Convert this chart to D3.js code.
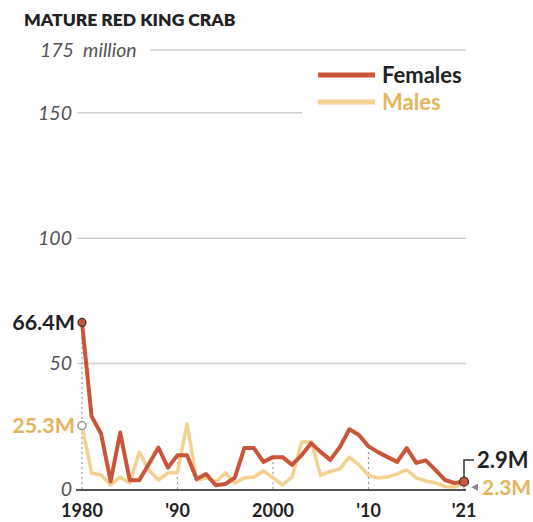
<!DOCTYPE html>
<html><head><meta charset="utf-8">
<script src="https://cdn.jsdelivr.net/npm/d3@7"></script>
<style>
body{margin:0;background:#fff;}
svg{display:block;font-family:Lato,"Open Sans",sans-serif;}
</style></head><body>
<svg id="c" width="533" height="522"></svg>
<script>
const years = [1980,1981,1982,1983,1984,1985,1986,1987,1988,1989,1990,1991,1992,1993,1994,1995,1996,1997,1998,1999,2000,2001,2002,2003,2004,2005,2006,2007,2008,2009,2010,2011,2012,2013,2014,2015,2016,2017,2018,2019,2021];
const females = [66.4,29,22,3,22.5,3.5,3.5,10,16.5,8.5,13.5,13.5,4,6,1.5,2,4.5,16.3,16.3,10.8,12.7,12.7,9.6,13.5,18.3,14.7,11.6,16.7,23.8,21.5,17,14.7,12.7,10.8,16.3,10.4,11.4,7.6,3.6,2.4,2.9];
const males = [25.3,6.4,5.6,1.6,4.8,2.4,14.7,7.6,3.6,6.4,6.6,26,3.6,4.4,2.8,6.4,2.4,4.4,4.8,7.2,4.5,1.6,4.8,18.7,18.7,5.5,7,8,12.7,9.6,5.5,4.4,4.8,6,7.6,4.4,3.2,2.4,1,0.8,2.3];
const yTicks = [0,50,100,150,175];
const xTicks = [1980,1990,2000,2010,2021];
const xTickLabels = ["1980","'90","2000","'10","'21"];
const title = "MATURE RED KING CRAB";

const FEM = "#c9553a", MAL = "#f4d190", MALTXT = "#e6b45c";
const svg = d3.select("#c");
const x = d3.scalePoint().domain(years).range([82,464]);
const y = d3.scaleLinear().domain([0,175]).range([489,50]);

svg.append("text").attr("x",24).attr("y",26).attr("font-size",17.5).attr("font-weight",800)
  .attr("fill","#222").text(title);

// gridlines
const gridExt = {175:[150,466],150:[77,302],100:[77,466],50:[77,466]};
yTicks.filter(d=>d>0).forEach(t=>{
  svg.append("line").attr("x1",gridExt[t][0]).attr("x2",gridExt[t][1])
    .attr("y1",y(t)).attr("y2",y(t)).attr("stroke","#cfcfcf").attr("stroke-width",1.5);
});
// y labels
yTicks.forEach(t=>{
  svg.append("text").attr("x",t===175?40:72).attr("y",y(t)).attr("dy","0.35em")
    .attr("text-anchor",t===175?"start":"end").attr("font-style","italic")
    .attr("font-size",19.5).attr("fill","#555").attr("xml:space","preserve")
    .text(t===175? "175  million" : t);
});

// dotted tick lines
xTicks.forEach(t=>{
  const i = years.indexOf(t);
  const top = Math.max(females[i],males[i]);
  svg.append("line").attr("x1",x(t)).attr("x2",x(t)).attr("y1",y(0)).attr("y2",y(top))
    .attr("stroke","#999").attr("stroke-width",1.2).attr("stroke-dasharray","2,3");
});
// baseline
svg.append("line").attr("x1",76).attr("x2",466).attr("y1",y(0)+1).attr("y2",y(0)+1)
  .attr("stroke","#555").attr("stroke-width",2.2);

// x labels
xTicks.forEach((t,k)=>{
  svg.append("text").attr("x",x(t)).attr("y",517).attr("text-anchor","middle")
    .attr("font-size",18).attr("font-weight",700).attr("fill","#222").text(xTickLabels[k]);
});

const line = d3.line().x((d,i)=>x(years[i])).y(d=>y(d)).curve(d3.curveLinear);
svg.append("path").datum(males).attr("d",line).attr("fill","none").attr("stroke",MAL)
  .attr("stroke-width",3.5).attr("stroke-linejoin","round");
svg.append("path").datum(females).attr("d",line).attr("fill","none").attr("stroke",FEM)
  .attr("stroke-width",4).attr("stroke-linejoin","round");

// legend
svg.append("line").attr("x1",318).attr("x2",375).attr("y1",75).attr("y2",75).attr("stroke",FEM).attr("stroke-width",5);
svg.append("line").attr("x1",318).attr("x2",375).attr("y1",102).attr("y2",102).attr("stroke",MAL).attr("stroke-width",5);
svg.append("text").attr("x",382).attr("y",75).attr("dy","0.35em").attr("font-size",22).attr("font-weight",700).attr("fill","#222").text("Females");
svg.append("text").attr("x",382).attr("y",102).attr("dy","0.35em").attr("font-size",22).attr("font-weight",700).attr("fill",MALTXT).text("Males");

// end annotations
const n = years.length-1;
svg.append("circle").attr("cx",x(years[0])).attr("cy",y(males[0])).attr("r",4).attr("fill","#fff").attr("stroke","#999").attr("stroke-width",1.5);
svg.append("circle").attr("cx",x(years[0])).attr("cy",y(females[0])).attr("r",4).attr("fill",FEM).attr("stroke","#333").attr("stroke-width",1.2);
svg.append("text").attr("x",75).attr("y",y(females[0])).attr("dy","0.35em").attr("text-anchor","end")
  .attr("font-size",21.5).attr("font-weight",700).attr("fill","#222").text(females[0]+"M");
svg.append("text").attr("x",75).attr("y",y(males[0])).attr("dy","0.35em").attr("text-anchor","end")
  .attr("font-size",21.5).attr("font-weight",700).attr("fill",MALTXT).text(males[0]+"M");

const ex = x(years[n]);
svg.append("path").attr("d",`M${ex},${y(females[n])-4} V460 H474`).attr("fill","none").attr("stroke","#333").attr("stroke-width",1.5);
svg.append("circle").attr("cx",ex).attr("cy",y(females[n])).attr("r",4.5).attr("fill",FEM).attr("stroke","#333").attr("stroke-width",1.2);
svg.append("path").attr("d",`M471,${y(males[n])+4} l7,-3.5 v7 z`).attr("fill","#888");
svg.append("text").attr("x",477).attr("y",460).attr("dy","0.35em").attr("font-size",22).attr("font-weight",700).attr("fill","#222").text(females[n]+"M");
svg.append("text").attr("x",482).attr("y",y(males[n])+4).attr("dy","0.35em").attr("font-size",21).attr("font-weight",700).attr("fill",MALTXT).text(males[n]+"M");
</script></body></html>
